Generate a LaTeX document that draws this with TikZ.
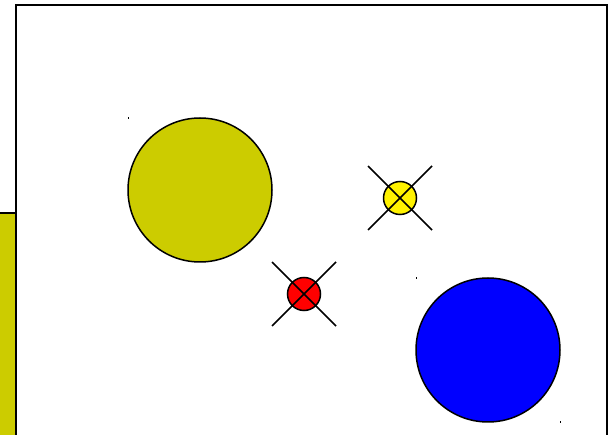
\documentclass[tikz,border=0pt]{standalone}
\begin{document}
\begin{tikzpicture}[x=1pt,y=-1pt,
  frame/.style={draw=black,line width=2pt},
  bigball/.style={draw=black,line width=1.5pt,circle,minimum size=144pt,inner sep=0pt},
  smallball/.style={draw=black,line width=1.5pt,circle,minimum size=33pt,inner sep=0pt},
  cross/.style={draw=black,line width=1.6pt},
  speck/.style={fill=black}]
\definecolor{olive}{RGB}{204,204,0}
\useasboundingbox (0,0) rectangle (616,435);
\clip (0,0) rectangle (616,435);
\fill[white] (0,0) rectangle (616,435);
\draw[frame,fill=white] (15.5,5.5) rectangle (607,450);
\draw[frame,fill=olive] (-10,213) rectangle (15.5,450);
\node[bigball,fill=olive] (olive) at (200,190) {};
\node[bigball,fill=blue] (blueball) at (488,350) {};
\coordinate (ya) at (368,166);
\coordinate (yb) at (432,230);
\coordinate (yc) at (432,166);
\coordinate (yd) at (368,230);
\node[smallball,fill=yellow] (yel) at (400,198) {};
\draw[cross] (ya) -- (yb);
\draw[cross] (yc) -- (yd);
\coordinate (ra) at (272,262);
\coordinate (rb) at (336,326);
\coordinate (rc) at (336,262);
\coordinate (rd) at (272,326);
\node[smallball,fill=red] (redb) at (304,294) {};
\draw[cross] (ra) -- (rb);
\draw[cross] (rc) -- (rd);
\fill[speck] (127.5,117.5) rectangle (128.7,118.7);
\fill[speck] (415.5,277.5) rectangle (416.7,278.7);
\fill[speck] (559.5,421.5) rectangle (560.7,422.7);
\end{tikzpicture}
\end{document}
